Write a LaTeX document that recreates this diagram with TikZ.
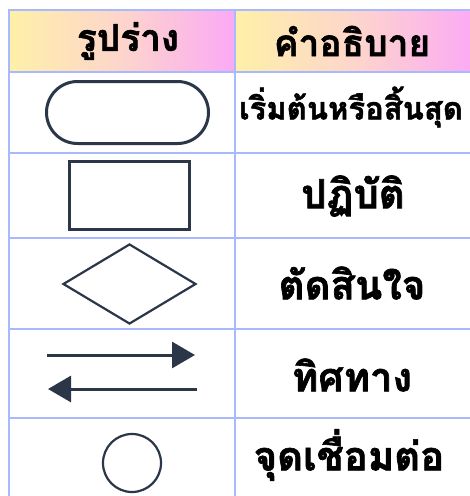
\documentclass[tikz,border=0pt]{standalone}
\usepackage{fontspec}
\newfontfamily\thaifont[Script=Thai, BoldFeatures={FakeBold=1.6}]{Loma}
\usetikzlibrary{shapes.geometric,arrows.meta}
\definecolor{gridc}{HTML}{A9B9FF}
\definecolor{inkc}{HTML}{2B3749}
\definecolor{hy}{HTML}{FEF0A8}
\definecolor{hm}{HTML}{FDD5CC}
\definecolor{hp}{HTML}{FBA9F5}
\tikzset{
  hdr/.style={left color=hy, right color=hp, middle color=hm, draw=none},
  gridline/.style={draw=gridc, line width=2pt},
  thick3/.style={draw=inkc, line width=3pt},
  thin2/.style={draw=inkc, line width=2.2pt},
  ttext/.style={font=\thaifont\bfseries\fontsize{40}{44}\selectfont, text=black, inner sep=0pt},
  htext/.style={font=\thaifont\bfseries\fontsize{37}{42}\selectfont, text=black, inner sep=0pt},
}
\begin{document}
\begin{tikzpicture}[x=1pt,y=-1pt]
\useasboundingbox (0,0) rectangle (470,496);
\fill[white] (0,0) rectangle (470,496);
% header
\shade[hdr] (9,10) rectangle (235,72);
\shade[hdr] (235,10) rectangle (476,72);
% grid
\draw[gridline] (476,10) -- (9,10) -- (9,500);
\draw[gridline] (235,10) -- (235,500);
\foreach \yy in {72,153,238,329,418}
  \draw[gridline] (9,\yy) -- (476,\yy);
% header texts
\node[htext] (h1) at (128,41) {รูปร่าง};
\node[htext] (h2) at (352,41) {คำอธิบาย};
% row 1
\node[thick3, rounded corners=31pt, minimum width=162pt, minimum height=62pt, inner sep=0pt] (term) at (127.5,112.5) {};
\node[ttext, font=\thaifont\bfseries\fontsize{31}{34}\selectfont] (t1) at (351,107) {เริ่มต้นหรือสิ้นสุด};
% row 2
\node[thick3, minimum width=120pt, minimum height=68pt, inner sep=0pt] (proc) at (129.5,195.5) {};
\node[ttext] (t2) at (353,196) {ปฏิบัติ};
% row 3
\node[thin2, diamond, aspect=1.66, minimum width=133pt, minimum height=80pt, inner sep=0pt] (dec) at (129.5,284) {};
\node[ttext] (t3) at (352,283) {ตัดสินใจ};
% row 4
\coordinate (a1s) at (47,355);
\coordinate (a1e) at (195,355);
\coordinate (a2s) at (197,389);
\coordinate (a2e) at (48,389);
\draw[thick3, -{Triangle[length=23pt,width=26pt]}] (a1s) -- (a1e);
\draw[thick3, -{Triangle[length=23pt,width=26pt]}] (a2s) -- (a2e);
\node[ttext] (t4) at (352,375) {ทิศทาง};
% row 5
\node[thin2, circle, minimum size=58pt, inner sep=0pt] (conn) at (132,463) {};
\node[ttext] (t5) at (349,455) {จุดเชื่อมต่อ};
\end{tikzpicture}
\end{document}
